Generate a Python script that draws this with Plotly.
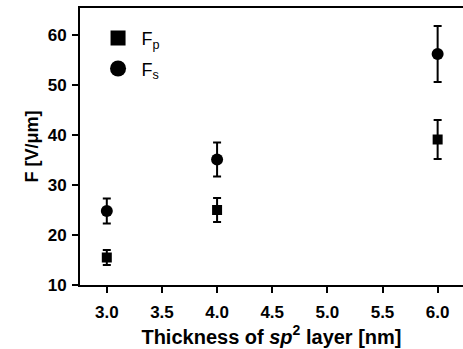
import plotly.graph_objects as go

x_vals = [3.0, 4.0, 6.0]
fp_vals = [15.5, 25.0, 39.1]
fp_err = [1.5, 2.4, 3.9]
fs_vals = [24.8, 35.1, 56.2]
fs_err = [2.5, 3.4, 5.6]
x_ticks = [3.0, 3.5, 4.0, 4.5, 5.0, 5.5, 6.0]
x_minor = [3.25, 3.75, 4.25, 4.75, 5.25, 5.75]
y_ticks = [10, 20, 30, 40, 50, 60]
y_minor = [15, 25, 35, 45, 55]

x_range = [2.757, 6.23]
y_range = [10, 65.4]

W, H = 463, 349
ML, MR, MT, MB = 80, 0, 8, 64
PW, PH = W - ML - MR, H - MT - MB
px_x = PW / (x_range[1] - x_range[0])
px_y = PH / (y_range[1] - y_range[0])

fig = go.Figure()
fig.add_trace(go.Scatter(
    x=x_vals, y=fp_vals, mode="markers", name="F<sub>p</sub>", showlegend=False,
    marker=dict(symbol="square", size=10, color="black"),
    error_y=dict(type="data", array=fp_err, color="black", thickness=2, width=4),
))
fig.add_trace(go.Scatter(
    x=x_vals, y=fs_vals, mode="markers", name="F<sub>s</sub>", showlegend=False,
    marker=dict(symbol="circle", size=12, color="black"),
    error_y=dict(type="data", array=fs_err, color="black", thickness=2, width=4),
))
fig.add_trace(go.Scatter(x=[None], y=[None], mode="markers", name="F<sub>p</sub>", legendgroup="p",
                         marker=dict(symbol="square", size=15, color="black")))
fig.add_trace(go.Scatter(x=[None], y=[None], mode="markers", name="F<sub>s</sub>", legendgroup="s",
                         marker=dict(symbol="circle", size=18, color="black")))

# tick marks as unclipped line markers placed just outside the axes (major 6 px, minor 4 px)
for ticks_list, L in ((x_ticks, 6), (x_minor, 4)):
    fig.add_trace(go.Scatter(
        x=ticks_list, y=[y_range[0] - (L / 2) / px_y] * len(ticks_list), mode="markers",
        cliponaxis=False, showlegend=False, hoverinfo="skip",
        marker=dict(symbol="line-ns", size=L, line=dict(color="black", width=2)),
    ))
for ticks_list, L in ((y_ticks, 6), (y_minor, 4)):
    fig.add_trace(go.Scatter(
        y=ticks_list, x=[x_range[0] - (L / 2) / px_x] * len(ticks_list), mode="markers",
        cliponaxis=False, showlegend=False, hoverinfo="skip",
        marker=dict(symbol="line-ew", size=L, line=dict(color="black", width=2)),
    ))

font_family = "Liberation Sans, Arial, sans-serif"
fig.update_layout(
    width=W, height=H,
    margin=dict(l=ML, r=MR, t=MT, b=MB),
    paper_bgcolor="white", plot_bgcolor="white",
    font=dict(family=font_family, color="black"),
    showlegend=True,
    legend=dict(x=0.038, y=0.957, xanchor="left", yanchor="top",
                font=dict(size=18, family=font_family, color="black"), bgcolor="rgba(0,0,0,0)",
                itemwidth=37, tracegroupgap=4),
    xaxis=dict(
        range=x_range, tickmode="array", tickvals=x_ticks,
        ticktext=[f"<b>{v:.1f}</b>" for v in x_ticks],
        showline=True, linecolor="black", linewidth=2, mirror=True,
        ticks="outside", ticklen=6, tickwidth=2, tickcolor="#000000",
        ticklabelstandoff=5,
        showgrid=False, zeroline=False, automargin=False,
        tickfont=dict(size=17, family=font_family),
        title=dict(text="<b>Thickness of <i>sp</i><sup>2</sup> layer [nm]</b>", font=dict(size=20), standoff=8),
    ),
    yaxis=dict(
        range=y_range, tickmode="array", tickvals=y_ticks,
        ticktext=[f"<b>{v}</b>" for v in y_ticks],
        showline=True, linecolor="black", linewidth=2,
        ticks="outside", ticklen=6, tickwidth=2, tickcolor="#000000",
        ticklabelstandoff=2,
        showgrid=False, zeroline=False, automargin=False,
        tickfont=dict(size=17, family=font_family),
        title=dict(text="<b>F [V/μm]</b>", font=dict(size=18), standoff=4),
    ),
)
fig.write_html("out.html", config={"displayModeBar": False},
               post_script="document.body.style.margin='0';document.body.style.padding='0';")
